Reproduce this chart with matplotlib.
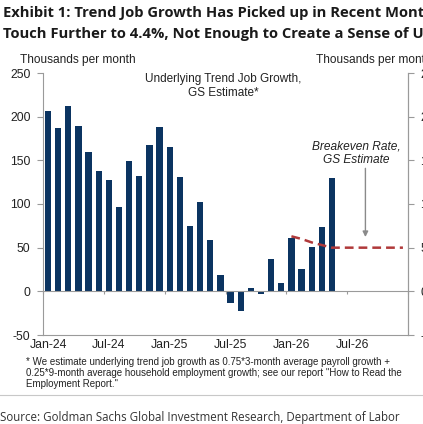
import numpy as np
import matplotlib.pyplot as plt

# data (thousands per month)
months = ['Jan-24', 'Feb-24', 'Mar-24', 'Apr-24', 'May-24', 'Jun-24', 'Jul-24', 'Aug-24', 'Sep-24', 'Oct-24', 'Nov-24', 'Dec-24',
          'Jan-25', 'Feb-25', 'Mar-25', 'Apr-25', 'May-25', 'Jun-25', 'Jul-25', 'Aug-25', 'Sep-25', 'Oct-25', 'Nov-25', 'Dec-25',
          'Jan-26', 'Feb-26', 'Mar-26', 'Apr-26', 'May-26', 'Jun-26', 'Jul-26', 'Aug-26', 'Sep-26', 'Oct-26', 'Nov-26', 'Dec-26']
trend_growth = [206, 187, 212, 189, 159, 138, 128, 97, 149, 132, 168, 188,
                165, 131, 75, 102, 59, 19, -13, -22, 4, -3, 37, 9,
                61, 26, 51, 74, 130]
breakeven = [63, 60, 56, 53, 50, 50, 50, 50, 50, 50, 50, 50]
breakeven_start = 24  # Jan-26
tick_idx = [0, 6, 12, 18, 24, 30]

navy = '#0B3461'
red = '#B0393A'
grey = '#9A9A9A'

plt.rcParams['font.family'] = ['Liberation Sans', 'DejaVu Sans']
plt.rcParams['axes.unicode_minus'] = False

fig = plt.figure(figsize=(4.23, 4.24), dpi=100)
ax = fig.add_axes([43 / 423, 1 - 335 / 424, 365 / 423, 262 / 424])

x = np.arange(len(trend_growth))
ax.bar(x, trend_growth, width=0.62, color=navy, zorder=3)
xb = np.arange(breakeven_start, breakeven_start + len(breakeven))
ax.plot(xb, breakeven, color=red, lw=1.8, dashes=(3.5, 2), zorder=4)

ax.set_xlim(-0.5, len(months) - 0.5)
ax.set_ylim(-50, 250)
ax.set_yticks(range(-50, 251, 50))
ax.set_xticks(tick_idx)
ax.set_xticklabels([months[i] for i in tick_idx])
ax.tick_params(axis='x', length=0, pad=3, labelsize=8.8, colors='#222222')
ax.tick_params(axis='y', length=4, width=0.8, color=grey, labelsize=8.8, labelcolor='#222222', pad=5)
ax.spines['top'].set_visible(False)
for s in ['left', 'right', 'bottom']:
    ax.spines[s].set_color(grey)
    ax.spines[s].set_linewidth(0.8)

# zero line with small ticks at half-year boundaries
zero = ax.secondary_xaxis(50 / 300)
zero.set_xticks(np.arange(-0.5, len(months), 6))
zero.tick_params(axis='x', direction='out', length=2.5, width=0.8, color=grey, labelbottom=False)
zero.spines['bottom'].set_color(grey)
zero.spines['bottom'].set_linewidth(0.8)
zero.set_zorder(5)

# right axis
axr = ax.twinx()
axr.set_ylim(-50, 250)
axr.set_yticks(range(-50, 251, 50))
axr.tick_params(axis='y', length=4, width=0.8, color=grey, labelsize=8.8, labelcolor='#222222', pad=5)
for s in ['top', 'left', 'bottom']:
    axr.spines[s].set_visible(False)
axr.spines['right'].set_color(grey)
axr.spines['right'].set_linewidth(0.8)

# texts
fig.text(20 / 423, 1 - 60 / 424, 'Thousands per month', fontsize=8.6, va='center', color='#222222')
fig.text(316 / 423, 1 - 60 / 424, 'Thousands per month', fontsize=8.6, va='center', color='#222222')
ax.text(17.3, 235, 'Underlying Trend Job Growth,\nGS Estimate*', ha='center', va='center',
        fontsize=8.5, color='#222222', linespacing=1.15)
ax.text(30.4, 158, 'Breakeven Rate,\nGS Estimate', ha='center', va='center',
        fontsize=8.6, style='italic', color='#222222', linespacing=1.15)
ax.annotate('', xy=(31.3, 59), xytext=(31.3, 144),
            arrowprops=dict(arrowstyle='-|>', color='#8A8A8A', lw=1.0, mutation_scale=8))

fig.text(3 / 423, 1 - 13 / 424, 'Exhibit 1: Trend Job Growth Has Picked up in Recent Months, Unemployment Rate',
         fontsize=10.6, fontweight='bold', family=['Open Sans', 'DejaVu Sans'], color='#1A1A1A', va='center')
fig.text(3 / 423, 1 - 34 / 424, 'Touch Further to 4.4%, Not Enough to Create a Sense of Urgency',
         fontsize=10.6, fontweight='bold', family=['Open Sans', 'DejaVu Sans'], color='#1A1A1A', va='center')

fig.text(26 / 423, 1 - 373 / 424,
         '* We estimate underlying trend job growth as 0.75*3-month average payroll growth +\n'
         '0.25*9-month average household employment growth; see our report "How to Read the\n'
         'Employment Report."', fontsize=7.0, color='#222222', va='center', linespacing=1.12)

fig.add_artist(plt.Line2D([0, 1], [1 - 395 / 424, 1 - 395 / 424], color='#C8C8C8', lw=0.8))
fig.text(0, 1 - 417 / 424, 'Source: Goldman Sachs Global Investment Research, Department of Labor',
         fontsize=8.3, family=['Open Sans', 'DejaVu Sans'], color='#333333', va='center')

fig.savefig('out.png', dpi=100)
